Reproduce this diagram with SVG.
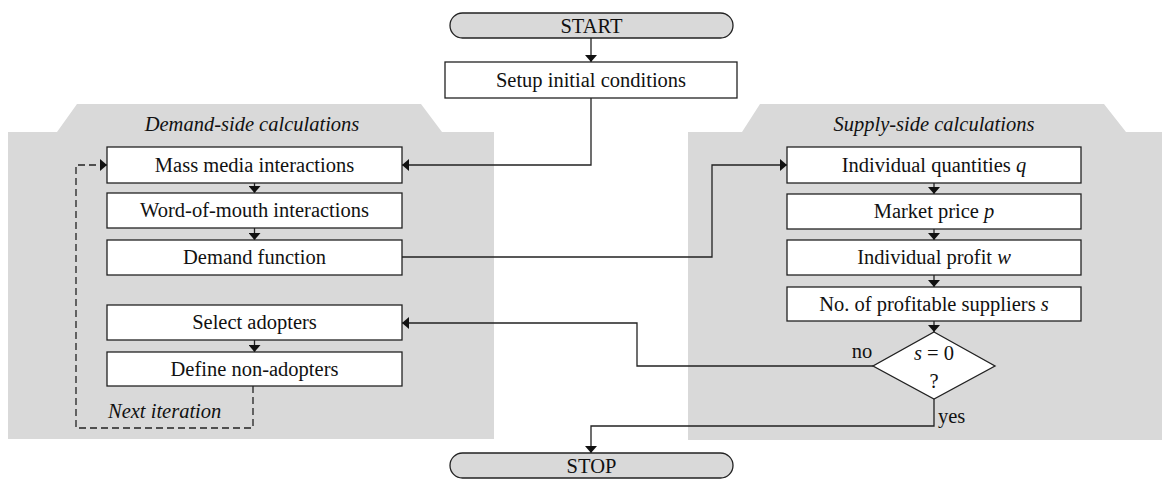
<svg xmlns="http://www.w3.org/2000/svg" width="1162" height="484" viewBox="0 0 1162 484">
<style>
text{font-family:"Liberation Serif","Times New Roman",serif;font-size:20.5px;fill:#111;text-anchor:middle}
.it{font-style:italic}
.box{fill:#fff;stroke:#222;stroke-width:1.3}
.pill{fill:#d9d9d9;stroke:#222;stroke-width:1.3}
.panel{fill:#d9d9d9;stroke:none}
.ln{fill:none;stroke:#222;stroke-width:1.3}
.dash{fill:none;stroke:#222;stroke-width:1.3;stroke-dasharray:7 4}
</style>
<defs>
<marker id="ah" viewBox="0 0 7 12" markerUnits="userSpaceOnUse" markerWidth="7" markerHeight="12" refX="7" refY="6" orient="auto">
<path d="M0,0 L7,6 L0,12 z" fill="#111"/>
</marker>
</defs>
<g id="panels">
<polygon class="panel" points="8,132 57,132 77,104 421,104 442,132 494,132 494,439 8,439"/>
<polygon class="panel" points="688,132 742,132 760,104 1104,104 1126,132 1162,132 1162,440 688,440"/>
<text class="it" x="252" y="131">Demand-side calculations</text>
<text class="it" x="934" y="131">Supply-side calculations</text>
</g>
<g id="connectors">
<path class="ln" d="M591,38 V62" marker-end="url(#ah)"/>
<path class="ln" d="M591,98 V165 H402" marker-end="url(#ah)"/>
<path class="ln" d="M254.5,183 V193" marker-end="url(#ah)"/>
<path class="ln" d="M254.5,228 V240" marker-end="url(#ah)"/>
<path class="ln" d="M254.5,340 V352" marker-end="url(#ah)"/>
<path class="dash" d="M253,386 V428 H76 V165 H107" marker-end="url(#ah)"/>
<path class="ln" d="M402,257 H712 V165 H787" marker-end="url(#ah)"/>
<path class="ln" d="M934,183 V194" marker-end="url(#ah)"/>
<path class="ln" d="M934,229 V240" marker-end="url(#ah)"/>
<path class="ln" d="M934,275 V287" marker-end="url(#ah)"/>
<path class="ln" d="M934,321 V332" marker-end="url(#ah)"/>
<path class="ln" d="M873,366 H637 V323 H402" marker-end="url(#ah)"/>
<path class="ln" d="M934,399 V426 H591 V453" marker-end="url(#ah)"/>
<text x="862" y="358">no</text>
<text x="938" y="423" style="text-anchor:start">yes</text>
<text class="it" x="108" y="418" style="text-anchor:start">Next iteration</text>
</g>
<g id="start">
<rect class="pill" x="450" y="13" width="283" height="25" rx="12.5"/>
<text x="591.5" y="33">START</text>
</g>
<g id="setup">
<rect class="box" x="445" y="62" width="292" height="36"/>
<text x="591" y="87">Setup initial conditions</text>
</g>
<g id="massmedia">
<rect class="box" x="107" y="147" width="295" height="36"/>
<text x="254.5" y="172">Mass media interactions</text>
</g>
<g id="wom">
<rect class="box" x="107" y="193" width="295" height="35"/>
<text x="254.5" y="217">Word-of-mouth interactions</text>
</g>
<g id="demand">
<rect class="box" x="107" y="240" width="295" height="35"/>
<text x="254.5" y="264">Demand function</text>
</g>
<g id="select">
<rect class="box" x="107" y="305" width="295" height="35"/>
<text x="254.5" y="329">Select adopters</text>
</g>
<g id="define">
<rect class="box" x="107" y="352" width="295" height="34"/>
<text x="254.5" y="376">Define non-adopters</text>
</g>
<g id="quantities">
<rect class="box" x="787" y="147" width="294" height="36"/>
<text x="934" y="172">Individual quantities <tspan class="it">q</tspan></text>
</g>
<g id="price">
<rect class="box" x="787" y="194" width="294" height="35"/>
<text x="934" y="218">Market price <tspan class="it">p</tspan></text>
</g>
<g id="profit">
<rect class="box" x="787" y="240" width="294" height="35"/>
<text x="934" y="264">Individual profit <tspan class="it">w</tspan></text>
</g>
<g id="suppliers">
<rect class="box" x="787" y="287" width="294" height="34"/>
<text x="934" y="311">No. of profitable suppliers  <tspan class="it">s</tspan></text>
</g>
<g id="decision">
<polygon class="box" points="934,332 995,366 934,399 873,366"/>
<text x="934" y="360"><tspan class="it">s</tspan> = 0</text>
<text x="934" y="388">?</text>
</g>
<g id="stop">
<rect class="pill" x="450" y="453" width="283" height="25" rx="12.5"/>
<text x="591.5" y="473">STOP</text>
</g>
</svg>
